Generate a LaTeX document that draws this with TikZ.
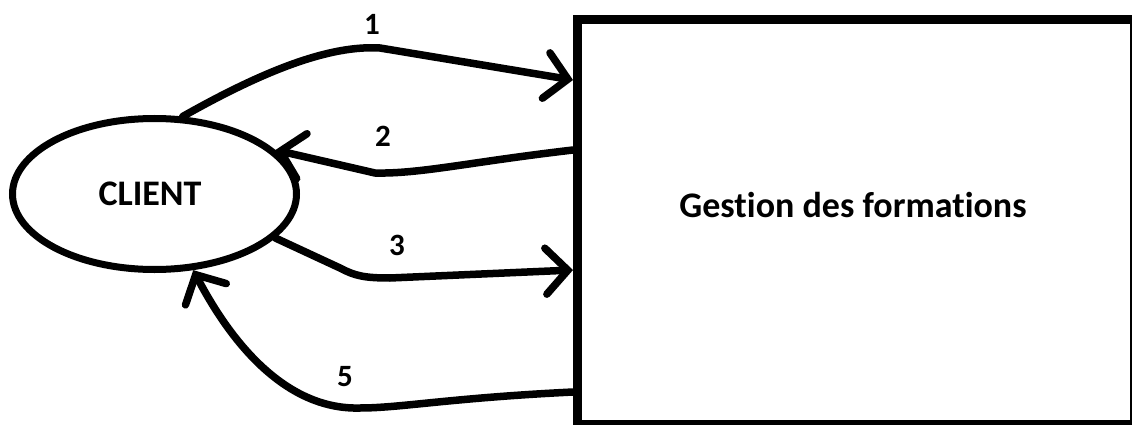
\documentclass[tikz,border=0pt]{standalone}
\usepackage{fontspec}
\setmainfont{Carlito}[Ligatures=NoCommon]
\usetikzlibrary{shapes.geometric,arrows.meta,calc}
\tikzset{
  entity/.style={ellipse,draw=black,line width=7pt,minimum width=284pt,minimum height=151pt,inner sep=0pt},
  procbox/.style={rectangle,draw=black,line width=9pt,minimum width=556.5pt,minimum height=405pt,inner sep=0pt},
  bigtxt/.style={font=\fontsize{36}{40}\selectfont\bfseries,inner sep=0pt},
  numtxt/.style={font=\fontsize{31}{34}\selectfont\bfseries,inner sep=0pt},
  flow/.style={line width=7.5pt,line cap=round,line join=round,
    -{Straight Barb[length=22pt,width=46pt,line width=7.5pt,line cap=round]}},
}
\begin{document}
\begin{tikzpicture}[x=1pt,y=-1pt]
\useasboundingbox (0,0) rectangle (1132,425);
\clip (0,0) rectangle (1132,425);
\fill[white] (0,0) rectangle (1132,425);
% nodes
\node[entity,label={[bigtxt,xshift=-4.5pt]center:CLIENT}] (client) at (154.5,194) {};
\node[procbox] (gest) at (855.75,222) {};
\node[bigtxt] (gtext) at (853,205) {Gestion des formations};
% endpoints on the box
\coordinate (g1) at ($(gest.north west)+(0,65)$);
\coordinate (g2) at ($(gest.north west)+(0,135)$);
\coordinate (g3) at ($(gest.north west)+(0,255)$);
\coordinate (g5) at ($(gest.north west)+(0,377)$);
% flows
\draw[flow] (client.70) .. controls (265,70) and (330,45) .. (380,48) -- (g1);
\draw[flow] (g2) .. controls (470,162) and (420,174) .. (375,173) -- (client.20);
\draw[flow] (client.-20) -- (340,268) .. controls (355,276) and (365,278) .. (390,278) -- (g3);
\draw[flow] (g5) .. controls (450,398) and (400,408) .. (360,408) .. controls (290,410) and (235,350) .. (client.-63);
% labels
\node[numtxt] (l1) at (372,24) {1};
\node[numtxt] (l2) at (383,136) {2};
\node[numtxt] (l3) at (397,245) {3};
\node[numtxt] (l5) at (345,377) {5};
\end{tikzpicture}
\end{document}
